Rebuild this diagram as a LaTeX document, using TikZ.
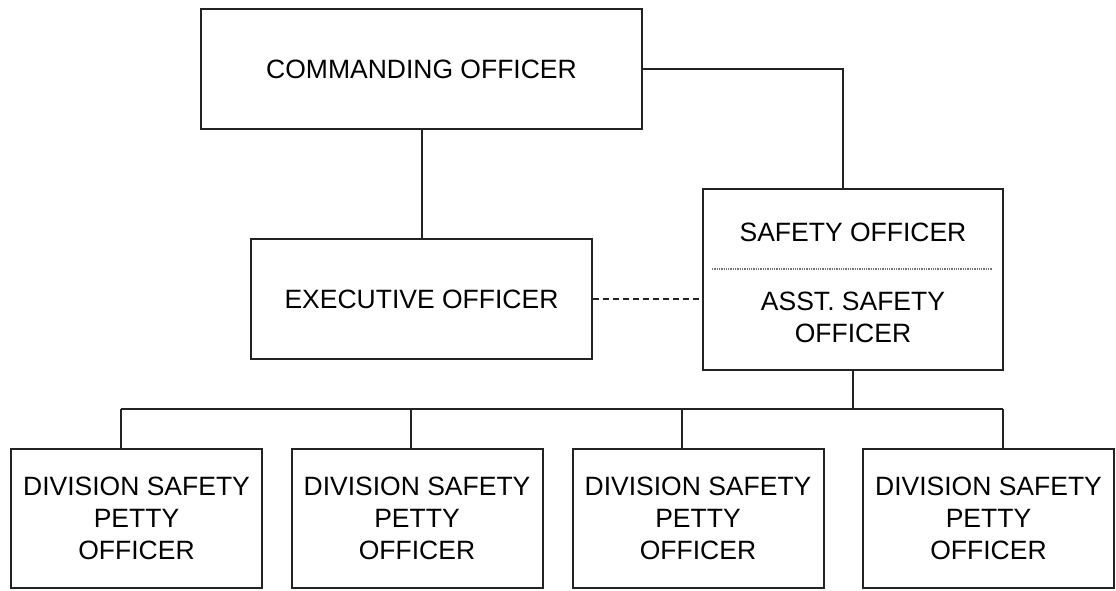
\documentclass[tikz,border=0pt]{standalone}
\usepackage{fontspec}
\setmainfont{Liberation Sans}
\usetikzlibrary{positioning}
\definecolor{frame}{RGB}{35,35,35}

\begin{document}
\begin{tikzpicture}[x=1pt,y=-1pt,
        box/.style={draw=frame,line width=2pt,inner sep=0pt,align=center,font=\fontsize{26.5}{32}\selectfont},
        label/.style={inner sep=0pt,align=center,font=\fontsize{26.5}{32}\selectfont},
        link/.style={draw=frame,line width=2pt}]
        \useasboundingbox (0,0) rectangle (1116,590);
        % officers
        \node[box,minimum width=441pt,minimum height=120pt] (co) at (421.5,69) {COMMANDING OFFICER};
        \node[box,minimum width=341pt,minimum height=120pt] (xo) at (421.5,299) {EXECUTIVE OFFICER};
        \node[box,minimum width=300pt,minimum height=181pt] (so) at (853,279.5) {};
        \node[label] (soname) at (853,232) {SAFETY OFFICER};
        \node[label] (asoname) at (853,317) {ASST. SAFETY\\OFFICER};
        \draw[black!55,line width=1.3pt,densely dotted] (712,269) -- (992,269);
        \draw[link] (co.south) -- (xo.north);
        \draw[link] (co.east) -| ([xshift=-10pt]so.north);
        \draw[link,line width=1.5pt,dash pattern=on 6pt off 4pt] (xo.east) -- (so.west |- xo.east);
        % divisions
        \foreach \cx/\tx [count=\i] in {136.5/121,417/411,698/682,988.5/1003}{
            \node[box,minimum width=251pt,minimum height=139pt] (div\i) at (\cx,518.5) {DIVISION SAFETY\\PETTY\\OFFICER};
            \coordinate (tap\i) at (\tx,409);
            \draw[link] (tap\i) -- (tap\i |- div\i.north);
        }
        \coordinate (bus) at (so.south |- tap1);
        \draw[link] (so.south) -- (bus);
        \draw[link] (tap1) -- (tap4);
    \end{tikzpicture}
\end{document}
